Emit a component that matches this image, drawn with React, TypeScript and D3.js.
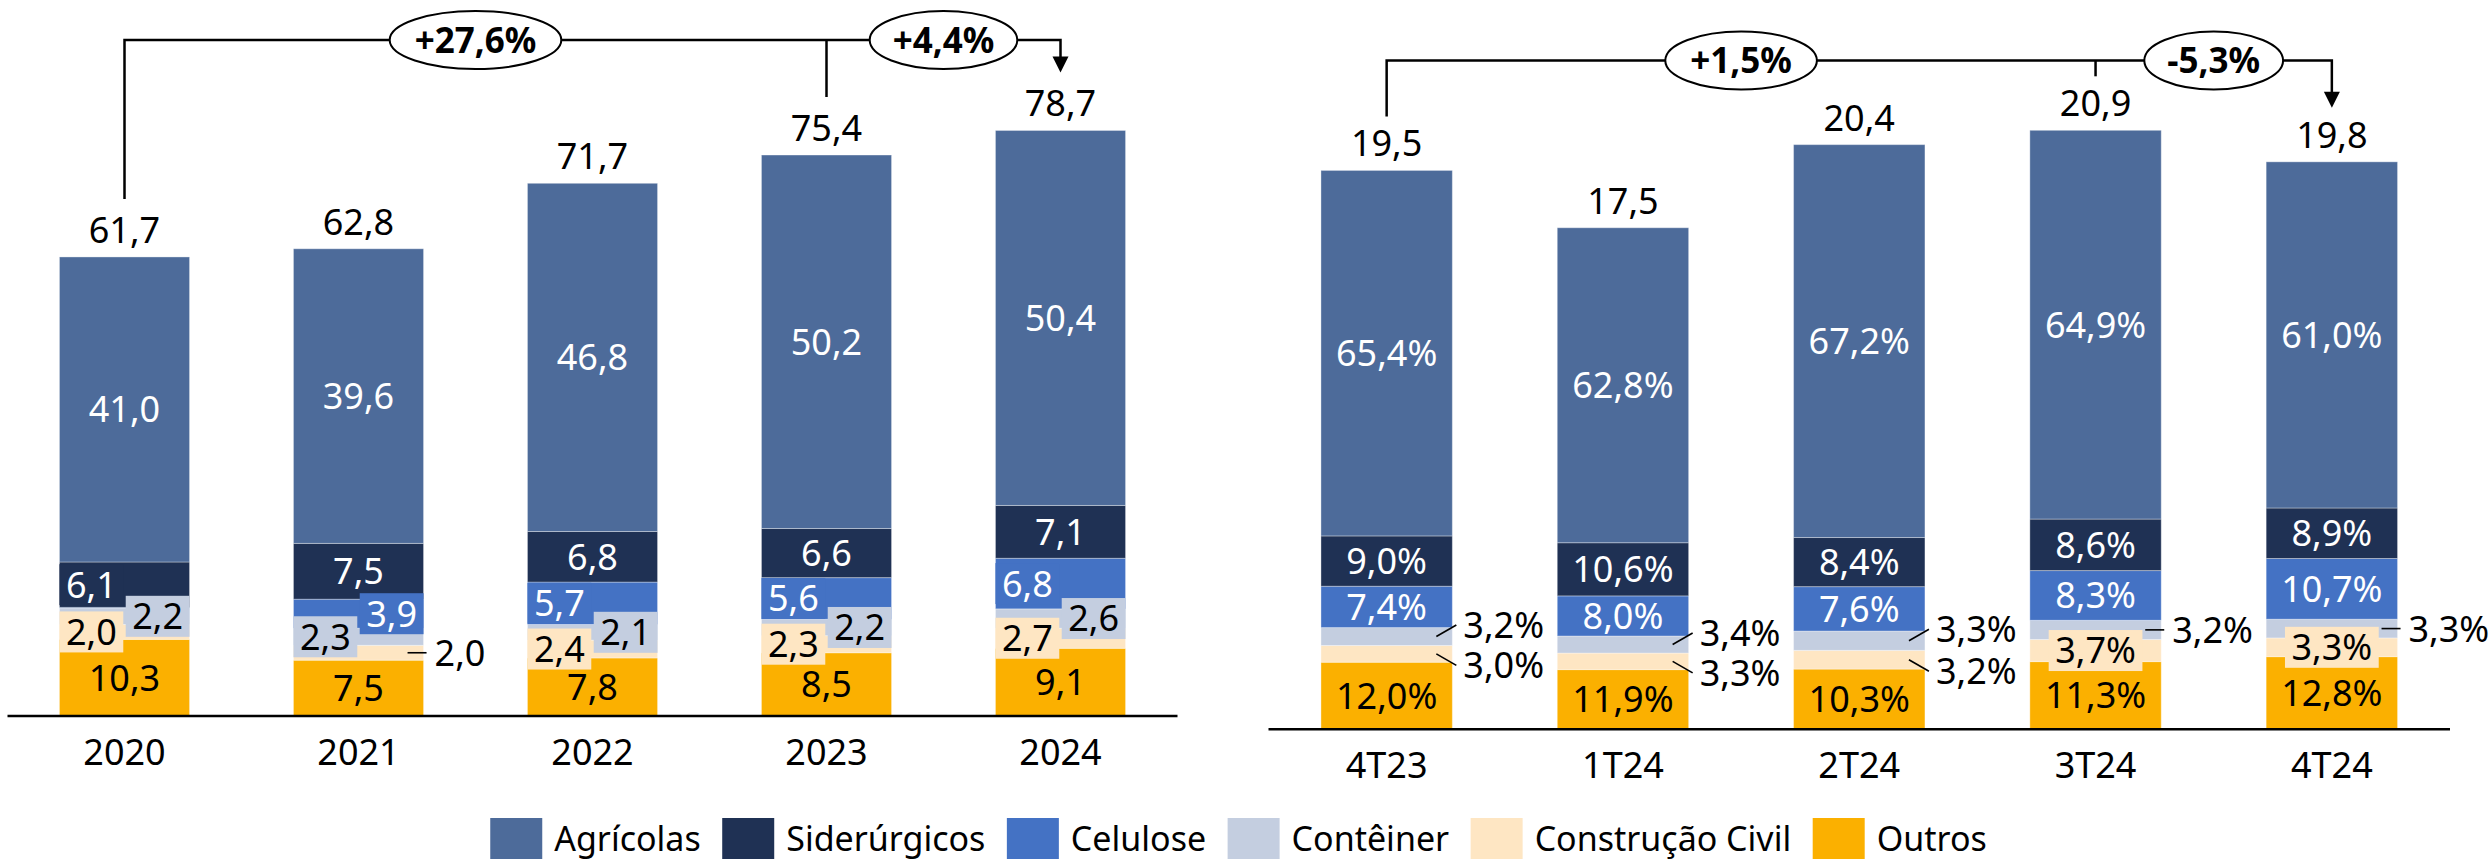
import React, { useMemo } from 'react';
import * as d3 from 'd3';

const W = 2489;
const H = 862;
const FONT = '"Noto Sans", "Open Sans", sans-serif';

// ---------- DATA ----------
const seriesNames = ['Agrícolas', 'Siderúrgicos', 'Celulose', 'Contêiner', 'Construção Civil', 'Outros'];
const seriesColors = ['#4D6B9A', '#1F3154', '#4472C4', '#C4CEE0', '#FEE6C3', '#FBB000'];

const years = ['2020', '2021', '2022', '2023', '2024'];
const annualTotals = [61.7, 62.8, 71.7, 75.4, 78.7];
const annualAgricolas = [41.0, 39.6, 46.8, 50.2, 50.4];
const annualSiderurgicos = [6.1, 7.5, 6.8, 6.6, 7.1];
const annualCelulose = [0.1, 3.9, 5.7, 5.6, 6.8];
const annualConteiner = [2.2, 2.3, 2.1, 2.2, 2.6];
const annualConstrucao = [2.0, 2.0, 2.4, 2.3, 2.7];
const annualOutros = [10.3, 7.5, 7.8, 8.5, 9.1];

const quarters = ['4T23', '1T24', '2T24', '3T24', '4T24'];
const quarterTotals = [19.5, 17.5, 20.4, 20.9, 19.8];
const quarterAgricolasPct = [65.4, 62.8, 67.2, 64.9, 61.0];
const quarterSiderurgicosPct = [9.0, 10.6, 8.4, 8.6, 8.9];
const quarterCelulosePct = [7.4, 8.0, 7.6, 8.3, 10.7];
const quarterConteinerPct = [3.2, 3.4, 3.3, 3.2, 3.3];
const quarterConstrucaoPct = [3.0, 3.3, 3.2, 3.7, 3.3];
const quarterOutrosPct = [12.0, 11.9, 10.3, 11.3, 12.8];

// label placement (layout only), per category, in seriesNames order
type Placement = 'c' | 'l' | 'r' | 'cb' | 'out' | 'up' | 'down' | 'none';
const annualPlacement: Placement[][] = [
  ['c', 'l', 'none', 'r', 'l', 'c'],
  ['c', 'c', 'r', 'l', 'out', 'c'],
  ['c', 'c', 'l', 'r', 'l', 'c'],
  ['c', 'c', 'l', 'r', 'l', 'c'],
  ['c', 'c', 'l', 'r', 'l', 'c'],
];
const quarterPlacement: Placement[][] = [
  ['c', 'c', 'c', 'up', 'down', 'c'],
  ['c', 'c', 'c', 'up', 'down', 'c'],
  ['c', 'c', 'c', 'up', 'down', 'c'],
  ['c', 'c', 'c', 'out', 'cb', 'c'],
  ['c', 'c', 'c', 'out', 'cb', 'c'],
];

// ---------- helpers ----------
const locale = d3.formatLocale({ decimal: ',', thousands: '.', grouping: [3], currency: ['R$', ''], minus: '-' });
const f1 = locale.format('.1f');
const fGrowth = locale.format('+.1%');

const FS = 36;
const ctx = typeof document !== 'undefined' ? document.createElement('canvas').getContext('2d') : null;
function measure(text: string, size = FS, weight = 'normal') {
  if (!ctx) return text.length * size * 0.55;
  ctx.font = `${weight} ${size}px "Noto Sans"`;
  return ctx.measureText(text).width;
}

interface PanelProps {
  cats: string[];
  vals: number[][];
  labels: string[][];
  totals: string[];
  placement: Placement[][];
  x: d3.ScaleBand<string>;
  y: d3.ScaleLinear<number, number>;
  axisY: number;
  lineY: number;
  gap: number;
  growth: string[];
  midIndex: number;
}

function Panel(p: PanelProps) {
  const bw = p.x.bandwidth();
  const order = [5, 4, 3, 2, 1, 0];
  const bars = p.cats.map((c, i) => {
    let cum = 0;
    const segs = order.map((s) => {
      const v = p.vals[s][i];
      const seg = { s, y0: cum, y1: cum + v };
      cum += v;
      return seg;
    });
    return { c, i, x0: p.x(c) as number, segs, top: cum };
  });
  const [r0, r1] = p.x.range();
  const cx = (i: number) => (p.x(p.cats[i]) as number) + bw / 2;
  const topY = (i: number) => p.y(bars[i].top) - p.gap;
  const last = p.cats.length - 1;
  const sx = cx(0), mx = cx(p.midIndex), ex = cx(last);
  const tip = topY(last);
  const capOff = FS * 0.36;

  const labelEls: React.ReactNode[] = [];
  bars.forEach((b) => {
    b.segs.forEach((seg) => {
      const pl = p.placement[b.i][seg.s];
      if (pl === 'none') return;
      const text = p.labels[seg.s][b.i];
      const yc = (p.y(seg.y0) + p.y(seg.y1)) / 2;
      const left = b.x0, right = b.x0 + bw, mid = b.x0 + bw / 2;
      const fill = seg.s <= 2 ? '#ffffff' : '#000000';
      const tw = measure(text);
      const boxW = tw + 13, boxH = 41;
      const key = `${b.i}-${seg.s}`;
      if (pl === 'c') {
        labelEls.push(<text key={key} x={mid} y={yc + capOff} textAnchor="middle" fill={fill}>{text}</text>);
      } else if (pl === 'l' || pl === 'r' || pl === 'cb') {
        const bx = pl === 'l' ? left : pl === 'r' ? right - boxW : mid - boxW / 2;
        labelEls.push(
          <g key={key}>
            <rect x={bx} y={yc - boxH / 2} width={boxW} height={boxH} fill={seriesColors[seg.s]} />
            <text x={bx + boxW / 2} y={yc + capOff} textAnchor="middle" fill={fill}>{text}</text>
          </g>
        );
      } else {
        const dy = pl === 'up' ? -11.5 : pl === 'down' ? 11.5 : 0;
        const lx1 = pl === 'out' ? right + 3 : right + 4;
        labelEls.push(
          <g key={key}>
            <line x1={right - 16} y1={yc} x2={lx1} y2={yc + dy} stroke="#000" strokeWidth={1.6} />
            <text x={right + 11} y={yc + dy + capOff} textAnchor="start" fill="#000">{text}</text>
          </g>
        );
      }
    });
  });

  const e1x = (sx + mx) / 2, e2x = (mx + ex) / 2;
  const g1w = measure(p.growth[0], 35, 'bold'), g2w = measure(p.growth[1], 35, 'bold');

  return (
    <g>
      {bars.map((b) => (
        <g key={b.c}>
          {b.segs.map((seg) => (
            <rect
              key={seg.s}
              x={b.x0}
              y={p.y(seg.y1)}
              width={bw}
              height={Math.max(0, p.y(seg.y0) - p.y(seg.y1))}
              fill={seriesColors[seg.s]}
              stroke="rgba(255,255,255,0.35)"
              strokeWidth={1}
            />
          ))}
        </g>
      ))}
      {labelEls}
      {bars.map((b) => (
        <text key={'t' + b.c} x={b.x0 + bw / 2} y={p.y(b.top) - 14} textAnchor="middle" fill="#000">
          {p.totals[b.i]}
        </text>
      ))}
      <line x1={r0} x2={r1} y1={p.axisY} y2={p.axisY} stroke="#000" strokeWidth={2.5} />
      {p.cats.map((c, i) => (
        <text key={'c' + c} x={cx(i)} y={p.axisY + 49} textAnchor="middle" fill="#000">{c}</text>
      ))}
      {/* bracket */}
      <path d={`M${sx},${topY(0)}V${p.lineY}H${ex}V${tip - 15}`} fill="none" stroke="#000" strokeWidth={2.5} />
      <line x1={mx} x2={mx} y1={p.lineY} y2={topY(p.midIndex)} stroke="#000" strokeWidth={2.5} />
      <polygon points={`${ex - 8},${tip - 16} ${ex + 8},${tip - 16} ${ex},${tip}`} fill="#000" />
      <ellipse cx={e1x} cy={p.lineY} rx={g1w / 2 + 25} ry={29} fill="#fff" stroke="#000" strokeWidth={2} />
      <ellipse cx={e2x} cy={p.lineY} rx={g2w / 2 + 23} ry={29} fill="#fff" stroke="#000" strokeWidth={2} />
      <text x={e1x} y={p.lineY + 35 * 0.36} textAnchor="middle" fontWeight="bold" fontSize={35}>{p.growth[0]}</text>
      <text x={e2x} y={p.lineY + 35 * 0.36} textAnchor="middle" fontWeight="bold" fontSize={35}>{p.growth[1]}</text>
    </g>
  );
}

export default function App() {
  const annualVals = [annualAgricolas, annualSiderurgicos, annualCelulose, annualConteiner, annualConstrucao, annualOutros];
  const quarterPcts = [quarterAgricolasPct, quarterSiderurgicosPct, quarterCelulosePct, quarterConteinerPct, quarterConstrucaoPct, quarterOutrosPct];
  const quarterVals = quarterPcts.map((arr) => arr.map((v, i) => (quarterTotals[i] * v) / 100));

  const xA = d3.scaleBand<string>().domain(years).range([7.5, 1177.5]).paddingInner(0.444).paddingOuter(0.222);
  const yA = d3.scaleLinear().domain([0, 80]).range([716, 716 - 80 * 7.44]);
  const xQ = d3.scaleBand<string>().domain(quarters).range([1268.5, 2450]).paddingInner(0.444).paddingOuter(0.222);
  const yQ = d3.scaleLinear().domain([0, 21]).range([729.3, 729.3 - 21 * 28.66]);

  const annualGrowth = [fGrowth(annualTotals[4] / annualTotals[0] - 1), fGrowth(annualTotals[4] / annualTotals[3] - 1)];
  const quarterGrowth = [fGrowth(quarterTotals[4] / quarterTotals[0] - 1), fGrowth(quarterTotals[4] / quarterTotals[3] - 1)];

  const legend = useMemo(() => {
    const items = seriesNames.map((n, i) => ({ n, i, tw: measure(n, 34) }));
    const total = items.reduce((a, it) => a + 52 + 12 + it.tw + 21.5, 0) - 21.5;
    let xx = 1238.5 - total / 2;
    return items.map((it) => {
      const pos = xx;
      xx += 52 + 12 + it.tw + 21.5;
      return { ...it, x: pos };
    });
  }, []);

  return (
    <svg
      width={W}
      height={H}
      viewBox={`0 0 ${W} ${H}`}
      style={{ position: 'absolute', left: 0, top: 0, background: '#fff' }}
      fontFamily={FONT}
      fontSize={FS}
    >
      <rect x={0} y={0} width={W} height={H} fill="#fff" />
      <Panel
        cats={years}
        vals={annualVals}
        labels={annualVals.map((a) => a.map((v) => f1(v)))}
        totals={annualTotals.map((v) => f1(v))}
        placement={annualPlacement}
        x={xA}
        y={yA}
        axisY={716}
        lineY={40}
        gap={58}
        growth={annualGrowth}
        midIndex={3}
      />
      <Panel
        cats={quarters}
        vals={quarterVals}
        labels={quarterPcts.map((a) => a.map((v) => f1(v) + '%'))}
        totals={quarterTotals.map((v) => f1(v))}
        placement={quarterPlacement}
        x={xQ}
        y={yQ}
        axisY={729.3}
        lineY={60.5}
        gap={54}
        growth={quarterGrowth}
        midIndex={3}
      />
      {legend.map((it) => (
        <g key={it.n}>
          <rect x={it.x} y={818} width={52} height={41} fill={seriesColors[it.i]} />
          <text x={it.x + 64} y={851} fontSize={34} fill="#000">{it.n}</text>
        </g>
      ))}
    </svg>
  );
}
